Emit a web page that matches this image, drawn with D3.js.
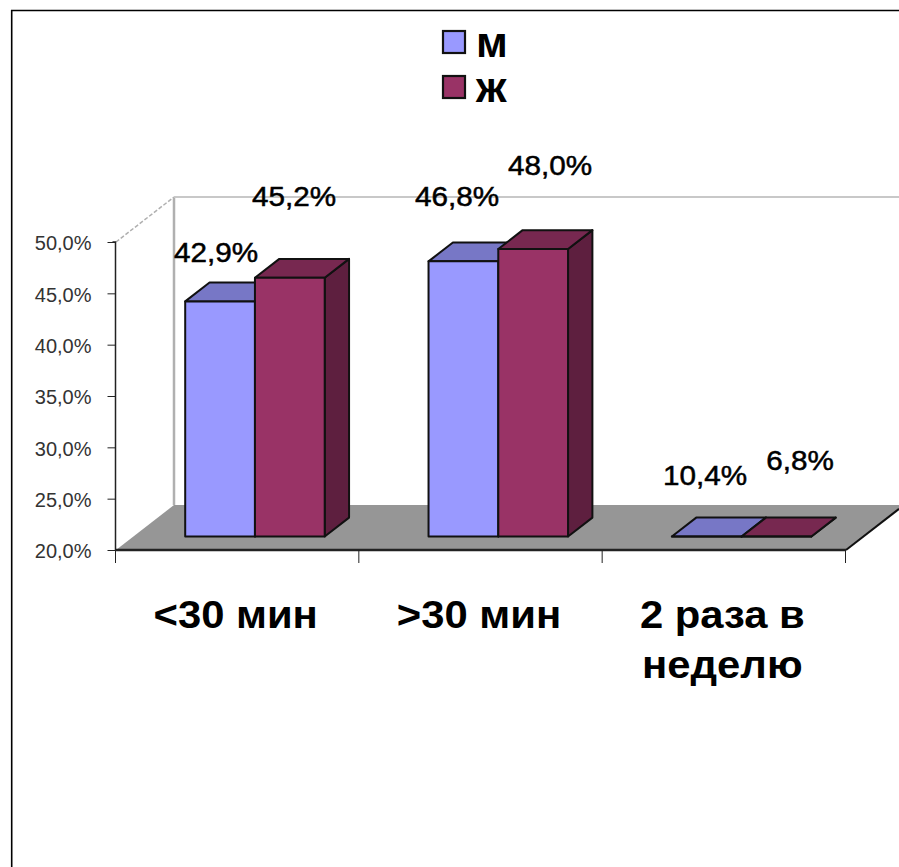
<!DOCTYPE html>
<html>
<head>
<meta charset="utf-8">
<script src="https://cdn.jsdelivr.net/npm/d3@7/dist/d3.min.js"></script>
<style>
html,body{margin:0;padding:0;background:#fff;}
svg{display:block;}
text{font-family:"Liberation Sans",Arial,sans-serif;}
</style>
</head>
<body>
<svg id="chart" width="899" height="867"></svg>
<script>
// Survey shares by session length, split by sex
const categories = [["<30 мин"], [">30 мин"], ["2 раза в", "неделю"]];
const seriesNames = ["м", "ж"];
const maleValues = [42.9, 46.8, 10.4];
const femaleValues = [45.2, 48.0, 6.8];
const valueLabels = [["42,9%", "45,2%"], ["46,8%", "48,0%"], ["10,4%", "6,8%"]];
const yTicks = [20, 25, 30, 35, 40, 45, 50];
const fills = ["#9999ff", "#993366"];
const topFills = ["#7777c6", "#772850"];
const sideFills = ["#5b5b99", "#5e1f3f"];

const svg = d3.select("#chart");
const W = 899;

// Outer frame of the chart area
svg.append("path").attr("d", "M11.7,867V10.5H899").attr("fill", "none").attr("stroke", "#000").attr("stroke-width", 1.6);

// Front plane scales; the value axis is clamped because the last group lies below its minimum
const x0 = d3.scaleBand().domain(d3.range(categories.length)).range([116, 846]);
const x1 = d3.scaleBand().domain([0, 1]).range([0, 139.5]);
const y = d3.scaleLinear().domain([20, 50]).range([550, 242]).clamp(true);
// Oblique projection: depth d in [0,1] shifts a point to the back of the box
const depthX = d3.scaleLinear().domain([0, 1]).range([0, 58]);
const depthY = d3.scaleLinear().domain([0, 1]).range([0, -45]);
const px = (x, d) => x + depthX(d);
const py = (v, d) => y(v) + depthY(d);
const line = d3.line();

// Back wall edges
const wallLeft = px(x0.range()[0], 1);
svg.append("path").attr("fill", "none").attr("stroke", "#b0b0b0").attr("stroke-width", 2.5)
  .attr("d", line([[wallLeft, py(20, 1)], [wallLeft, py(50, 1)]]));
svg.append("path").attr("fill", "none").attr("stroke", "#c8c8c8").attr("stroke-width", 2)
  .attr("d", line([[wallLeft, py(50, 1)], [W, py(50, 1)]]));
svg.append("path").attr("fill", "none").attr("stroke", "#b0b0b0").attr("stroke-width", 1.5)
  .attr("stroke-dasharray", "4,2")
  .attr("d", line([[px(116, 0), y(50)], [wallLeft, py(50, 1)]]));

// Floor, cut off by the right edge of the page
const floorRight = x0.range()[1];
const floorCut = (W - floorRight) / 58;
svg.append("path").attr("fill", "#969696")
  .attr("d", line([[px(116, 0), y(20)], [wallLeft, py(20, 1)], [W, py(20, 1)], [W, py(20, floorCut)], [floorRight, y(20)]]) + "Z");
svg.append("path").attr("fill", "none").attr("stroke", "#111").attr("stroke-width", 2)
  .attr("d", line([[floorRight, y(20)], [W, py(20, floorCut)]]));

// Bars: front, top and side faces
const barDepth = [0.3, 0.72];
const values = [maleValues, femaleValues];
const groups = svg.selectAll("g.group").data(categories).join("g").attr("class", "group");
groups.each(function (_, c) {
  const g = d3.select(this);
  [0, 1].forEach(s => {
    const v = values[s][c];
    const xl = x0(c) + 51.8 + x1(s);
    const xr = xl + x1.bandwidth();
    const [dA, dB] = barDepth;
    const base = 20;
    const face = (pts, fill) => g.append("path").attr("d", line(pts) + "Z").attr("fill", fill)
      .attr("stroke", "#111").attr("stroke-width", 2).attr("stroke-linejoin", "round");
    face([[px(xr, dA), py(v, dA)], [px(xr, dB), py(v, dB)], [px(xr, dB), py(base, dB)], [px(xr, dA), py(base, dA)]], sideFills[s]);
    face([[px(xl, dA), py(v, dA)], [px(xl, dB), py(v, dB)], [px(xr, dB), py(v, dB)], [px(xr, dA), py(v, dA)]], topFills[s]);
    face([[px(xl, dA), py(v, dA)], [px(xr, dA), py(v, dA)], [px(xr, dA), py(base, dA)], [px(xl, dA), py(base, dA)]], fills[s]);
  });
});

// Value axis
const yAxis = svg.append("g").attr("transform", "translate(115.5,0)")
  .call(d3.axisLeft(y).tickValues(yTicks).tickSize(8).tickPadding(16)
    .tickFormat(d => d3.format(".1f")(d).replace(".", ",") + "%"));
yAxis.selectAll("path,line").attr("stroke", "#222").attr("stroke-width", 1);
yAxis.select(".domain").attr("stroke-width", 1.5).attr("d", `M0,${y(20)}V${y(50)}H-3`);
yAxis.selectAll("text").attr("font-size", 20).attr("fill", "#333").attr("dy", "0.39em")
  .attr("font-family", '"Liberation Sans",Arial,sans-serif');

// Category axis line and ticks
const tickXs = x0.domain().map(d => x0(d)).concat([x0.range()[1]]);
svg.append("path").attr("fill", "none").attr("stroke", "#222").attr("stroke-width", 2.5)
  .attr("d", line([[115, y(20)], [846, y(20)]]));
svg.selectAll("line.cat").data(tickXs).join("line").attr("class", "cat")
  .attr("x1", d => d - 0.5).attr("x2", d => d - 0.5)
  .attr("y1", y(20)).attr("y2", y(20) + 13)
  .attr("stroke", "#222");

// Category labels, slightly widened
const catStretch = 1.1;
svg.selectAll("text.cat").data(categories).join("text").attr("class", "cat")
  .attr("text-anchor", "middle").attr("font-weight", "bold").attr("font-size", 38).attr("fill", "#000")
  .attr("transform", (d, i) => `translate(${x0(i) + x0.bandwidth() / 2 - 2},628) scale(${catStretch},1)`)
  .selectAll("tspan").data(d => d).join("tspan")
  .attr("x", 0).attr("dy", (d, i) => i ? 50 : 0).text(d => d);

// Data labels
const labelAt = [[[216, 262], [294, 206]], [[457, 206], [550, 175]], [[705, 485], [800, 470]]];
labelAt.forEach((row, c) => row.forEach((p, s) => {
  svg.append("text").attr("transform", `translate(${p[0]},${p[1]}) scale(1.06,1)`).attr("text-anchor", "middle")
    .attr("font-size", 28).attr("fill", "#000").attr("stroke", "#000").attr("stroke-width", 0.5)
    .text(valueLabels[c][s]);
}));

// Legend
const legend = svg.selectAll("g.legend").data(seriesNames).join("g").attr("class", "legend")
  .attr("transform", (d, i) => `translate(443,${31 + i * 45})`);
legend.append("rect").attr("x", 0).attr("y", 0).attr("width", 22).attr("height", 22)
  .attr("fill", (d, i) => fills[i]).attr("stroke", "#111").attr("stroke-width", 2.2);
legend.append("text").attr("x", 33).attr("y", 26).attr("font-weight", "bold").attr("font-size", 43)
  .attr("fill", "#000").text(d => d);
</script>
</body>
</html>
